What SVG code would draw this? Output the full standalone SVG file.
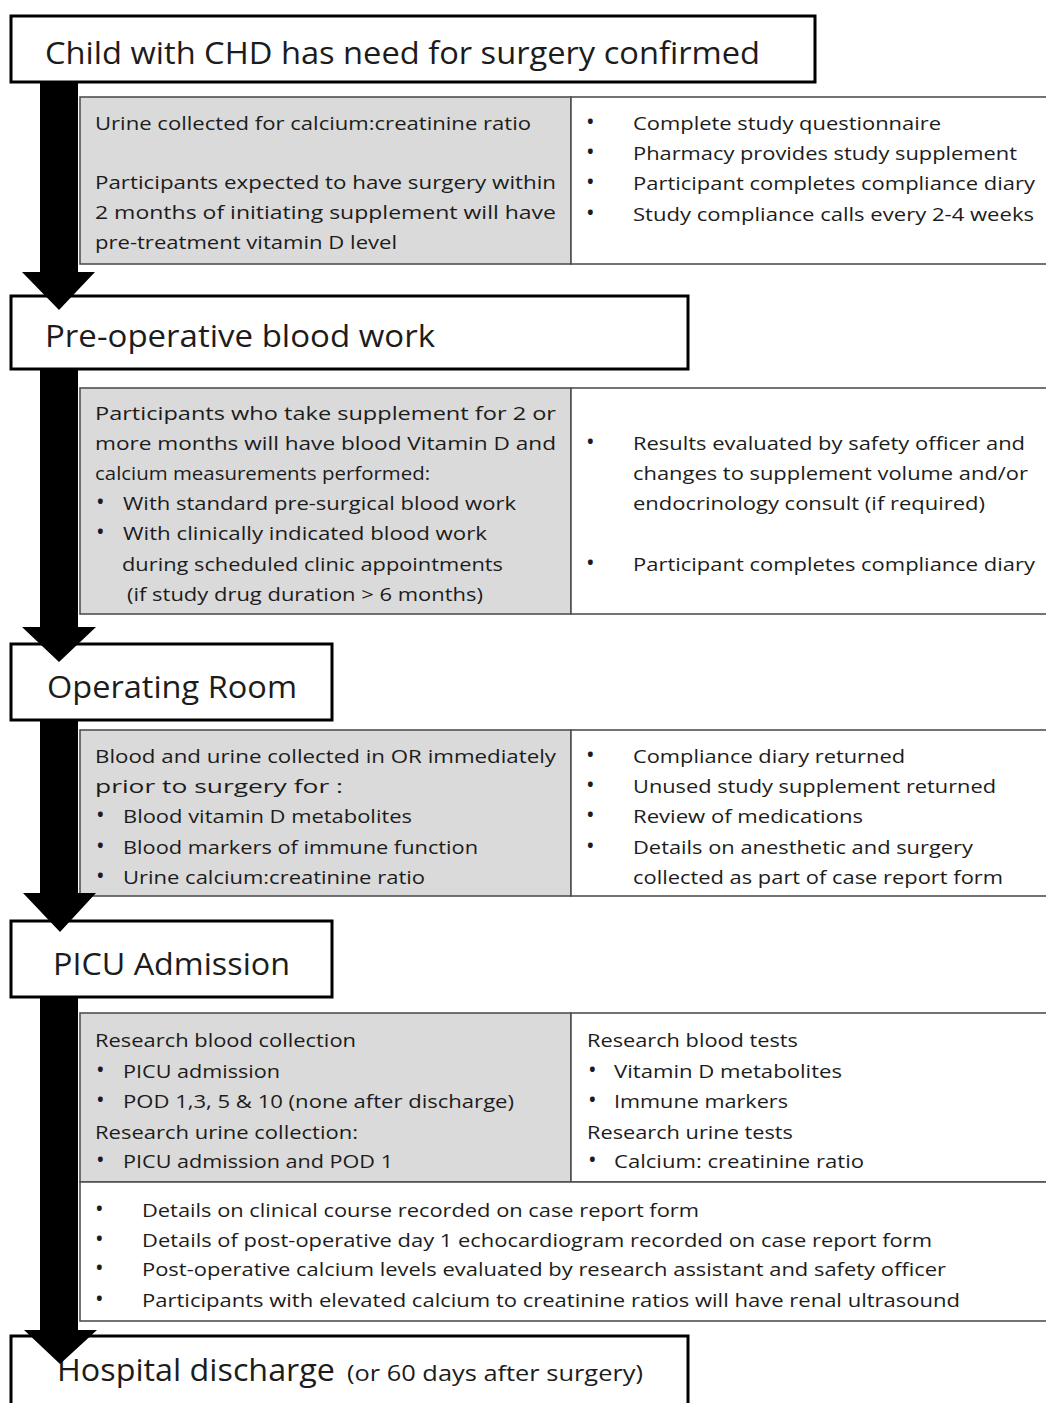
<svg xmlns="http://www.w3.org/2000/svg" width="1046" height="1403" viewBox="0 0 1046 1403">
<style>
.box{fill:#fff;stroke:#000;stroke-width:3}
.gray{fill:#dadada;stroke:#505050;stroke-width:1.6}
.white{fill:#fff;stroke:#505050;stroke-width:1.6}
text{font-family:"Open Sans","Liberation Sans",sans-serif;fill:#1c1c1c}
.h{font-size:31px}
.hs{font-size:22px}
.b{font-size:18.5px}
.d{font-size:23px}
.arrow{fill:#000}
</style>
<rect width="1046" height="1403" fill="#fff"/>

<g id="panel1">
<rect class="gray" x="80" y="97" width="491" height="167"/>
<rect class="white" x="571" y="97" width="478" height="167"/>
<text class="b" x="95" y="130" textLength="436" lengthAdjust="spacingAndGlyphs">Urine collected for calcium:creatinine ratio</text>
<text class="b" x="95" y="189" textLength="461" lengthAdjust="spacingAndGlyphs">Participants expected to have surgery within</text>
<text class="b" x="95" y="219" textLength="461" lengthAdjust="spacingAndGlyphs">2 months of initiating supplement will have</text>
<text class="b" x="95" y="249" textLength="302" lengthAdjust="spacingAndGlyphs">pre-treatment vitamin D level</text>
<text class="d" x="586" y="130">•</text>
<text class="d" x="586" y="160">•</text>
<text class="d" x="586" y="190">•</text>
<text class="d" x="586" y="221">•</text>
<text class="b" x="633" y="130" textLength="308" lengthAdjust="spacingAndGlyphs">Complete study questionnaire</text>
<text class="b" x="633" y="160" textLength="384" lengthAdjust="spacingAndGlyphs">Pharmacy provides study supplement</text>
<text class="b" x="633" y="190" textLength="402" lengthAdjust="spacingAndGlyphs">Participant completes compliance diary</text>
<text class="b" x="633" y="221" textLength="401" lengthAdjust="spacingAndGlyphs">Study compliance calls every 2-4 weeks</text>
</g>

<g id="panel2">
<rect class="gray" x="80" y="388" width="491" height="226"/>
<rect class="white" x="571" y="388" width="478" height="226"/>
<text class="b" x="95" y="420" textLength="461" lengthAdjust="spacingAndGlyphs">Participants who take supplement for 2 or</text>
<text class="b" x="95" y="450" textLength="461" lengthAdjust="spacingAndGlyphs">more months will have blood Vitamin D and</text>
<text class="b" x="95" y="480" textLength="335" lengthAdjust="spacingAndGlyphs">calcium measurements performed:</text>
<text class="d" x="96" y="510">•</text>
<text class="b" x="123" y="510" textLength="393" lengthAdjust="spacingAndGlyphs">With standard pre-surgical blood work</text>
<text class="d" x="96" y="540">•</text>
<text class="b" x="123" y="540" textLength="364" lengthAdjust="spacingAndGlyphs">With clinically indicated blood work</text>
<text class="b" x="122" y="571" textLength="381" lengthAdjust="spacingAndGlyphs">during scheduled clinic appointments</text>
<text class="b" x="127" y="601" textLength="356" lengthAdjust="spacingAndGlyphs">(if study drug duration &gt; 6 months)</text>
<text class="d" x="586" y="450">•</text>
<text class="b" x="633" y="450" textLength="392" lengthAdjust="spacingAndGlyphs">Results evaluated by safety officer and</text>
<text class="b" x="633" y="480" textLength="395" lengthAdjust="spacingAndGlyphs">changes to supplement volume and/or</text>
<text class="b" x="633" y="510" textLength="352" lengthAdjust="spacingAndGlyphs">endocrinology consult (if required)</text>
<text class="d" x="586" y="571">•</text>
<text class="b" x="633" y="571" textLength="402" lengthAdjust="spacingAndGlyphs">Participant completes compliance diary</text>
</g>

<g id="panel3">
<rect class="gray" x="80" y="730" width="491" height="166"/>
<rect class="white" x="571" y="730" width="478" height="166"/>
<text class="b" x="95" y="763" textLength="461" lengthAdjust="spacingAndGlyphs">Blood and urine collected in OR immediately</text>
<text class="b" x="95" y="793" textLength="248" lengthAdjust="spacingAndGlyphs">prior to surgery for :</text>
<text class="d" x="96" y="823">•</text>
<text class="b" x="123" y="823" textLength="289" lengthAdjust="spacingAndGlyphs">Blood vitamin D metabolites</text>
<text class="d" x="96" y="854">•</text>
<text class="b" x="123" y="854" textLength="355" lengthAdjust="spacingAndGlyphs">Blood markers of immune function</text>
<text class="d" x="96" y="884">•</text>
<text class="b" x="123" y="884" textLength="302" lengthAdjust="spacingAndGlyphs">Urine calcium:creatinine ratio</text>
<text class="d" x="586" y="763">•</text>
<text class="d" x="586" y="793">•</text>
<text class="d" x="586" y="823">•</text>
<text class="d" x="586" y="854">•</text>
<text class="b" x="633" y="763" textLength="272" lengthAdjust="spacingAndGlyphs">Compliance diary returned</text>
<text class="b" x="633" y="793" textLength="363" lengthAdjust="spacingAndGlyphs">Unused study supplement returned</text>
<text class="b" x="633" y="823" textLength="230" lengthAdjust="spacingAndGlyphs">Review of medications</text>
<text class="b" x="633" y="854" textLength="340" lengthAdjust="spacingAndGlyphs">Details on anesthetic and surgery</text>
<text class="b" x="633" y="884" textLength="370" lengthAdjust="spacingAndGlyphs">collected as part of case report form</text>
</g>

<g id="panel4">
<rect class="gray" x="80" y="1013" width="491" height="169"/>
<rect class="white" x="571" y="1013" width="478" height="169"/>
<rect class="white" x="80" y="1182" width="969" height="139"/>
<text class="b" x="95" y="1047" textLength="261" lengthAdjust="spacingAndGlyphs">Research blood collection</text>
<text class="d" x="96" y="1078">•</text>
<text class="b" x="123" y="1078" textLength="157" lengthAdjust="spacingAndGlyphs">PICU admission</text>
<text class="d" x="96" y="1108">•</text>
<text class="b" x="123" y="1108" textLength="391" lengthAdjust="spacingAndGlyphs">POD 1,3, 5 &amp; 10 (none after discharge)</text>
<text class="b" x="95" y="1139" textLength="263" lengthAdjust="spacingAndGlyphs">Research urine collection:</text>
<text class="d" x="96" y="1168">•</text>
<text class="b" x="123" y="1168" textLength="270" lengthAdjust="spacingAndGlyphs">PICU admission and POD 1</text>
<text class="b" x="587" y="1047" textLength="211" lengthAdjust="spacingAndGlyphs">Research blood tests</text>
<text class="d" x="588" y="1078">•</text>
<text class="b" x="614" y="1078" textLength="228" lengthAdjust="spacingAndGlyphs">Vitamin D metabolites</text>
<text class="d" x="588" y="1108">•</text>
<text class="b" x="614" y="1108" textLength="174" lengthAdjust="spacingAndGlyphs">Immune markers</text>
<text class="b" x="587" y="1139" textLength="206" lengthAdjust="spacingAndGlyphs">Research urine tests</text>
<text class="d" x="588" y="1168">•</text>
<text class="b" x="614" y="1168" textLength="250" lengthAdjust="spacingAndGlyphs">Calcium: creatinine ratio</text>
<text class="d" x="95" y="1217">•</text>
<text class="d" x="95" y="1247">•</text>
<text class="d" x="95" y="1276">•</text>
<text class="d" x="95" y="1307">•</text>
<text class="b" x="142" y="1217" textLength="557" lengthAdjust="spacingAndGlyphs">Details on clinical course recorded on case report form</text>
<text class="b" x="142" y="1247" textLength="790" lengthAdjust="spacingAndGlyphs">Details of post-operative day 1 echocardiogram recorded on case report form</text>
<text class="b" x="142" y="1276" textLength="804" lengthAdjust="spacingAndGlyphs">Post-operative calcium levels evaluated by research assistant and safety officer</text>
<text class="b" x="142" y="1307" textLength="818" lengthAdjust="spacingAndGlyphs">Participants with elevated calcium to creatinine ratios will have renal ultrasound</text>
</g>

<g id="node1">
<rect class="box" x="11" y="16" width="804" height="66"/>
<text class="h" x="45" y="64" textLength="715" lengthAdjust="spacingAndGlyphs">Child with CHD has need for surgery confirmed</text>
</g>
<g id="node2">
<rect class="box" x="11" y="296" width="677" height="73"/>
<text class="h" x="45" y="347" textLength="390" lengthAdjust="spacingAndGlyphs">Pre-operative blood work</text>
</g>
<g id="node3">
<rect class="box" x="11" y="644" width="321" height="76"/>
<text class="h" x="47" y="698" textLength="250" lengthAdjust="spacingAndGlyphs">Operating Room</text>
</g>
<g id="node4">
<rect class="box" x="11" y="921" width="321" height="76"/>
<text class="h" x="53" y="975" textLength="237" lengthAdjust="spacingAndGlyphs">PICU Admission</text>
</g>
<g id="node5">
<rect class="box" x="11" y="1336" width="677" height="80"/>
<text class="h" x="57" y="1381" textLength="278" lengthAdjust="spacingAndGlyphs">Hospital discharge</text>
<text class="hs" x="347" y="1381" textLength="296" lengthAdjust="spacingAndGlyphs">(or 60 days after surgery)</text>
</g>

<g id="connectors">
<polygon class="arrow" points="40,82 78,82 78,272 95,272 59,310 22,272 40,272"/>
<polygon class="arrow" points="40,369 78,369 78,627 96,627 59,662 22,627 40,627"/>
<polygon class="arrow" points="40,720 78,720 78,893 96,893 60,932 23,893 40,893"/>
<polygon class="arrow" points="40,997 78,997 78,1330 97,1330 60,1364 24,1330 40,1330"/>
</g>
</svg>
